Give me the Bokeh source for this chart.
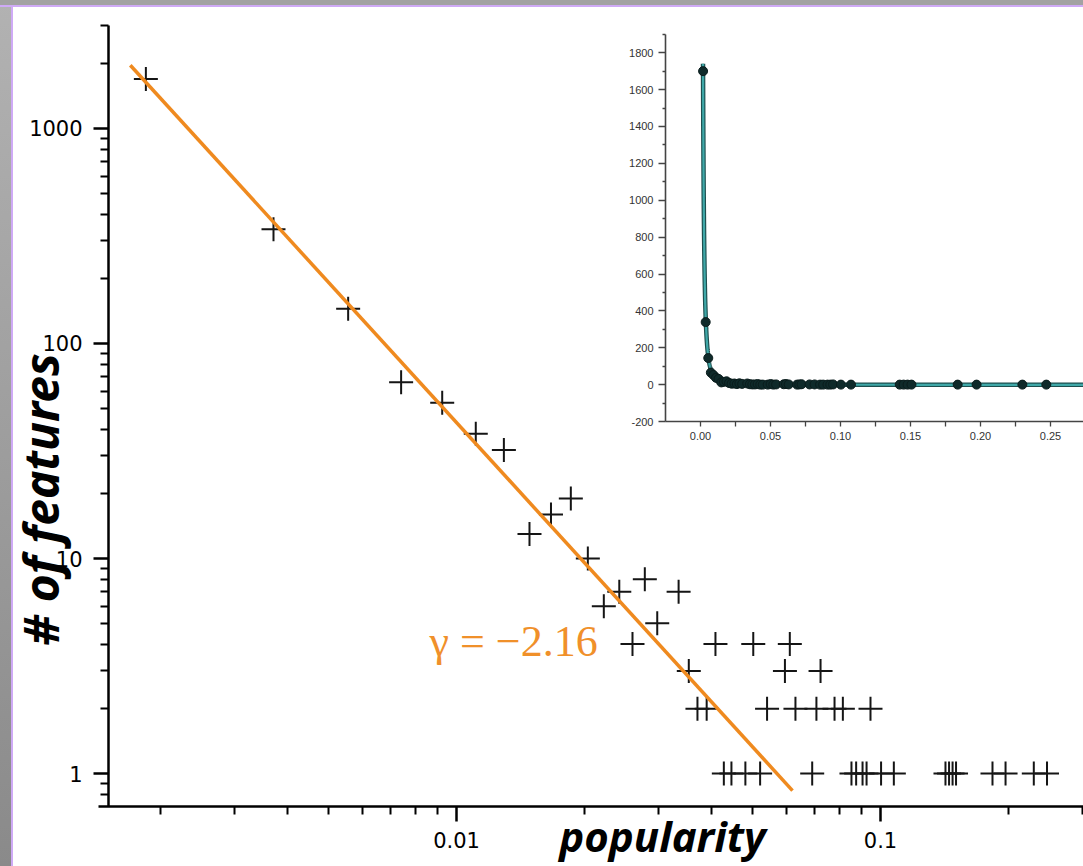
import numpy as np
from bokeh.plotting import figure
from bokeh.models import Range1d, LinearScale, LinearAxis, LogAxis, FixedTicker, Label
from bokeh.embed import file_html
from bokeh.resources import INLINE

# ---------------- data ----------------
popularity = [0.00185, 0.0037, 0.00555, 0.0074, 0.00925, 0.0111, 0.01293, 0.01486,
              0.0167, 0.0186, 0.0204, 0.02225, 0.0242, 0.0260, 0.0278, 0.02974,
              0.0334, 0.0353, 0.0370, 0.0389, 0.0408, 0.0427, 0.0445, 0.0480,
              0.0501, 0.0520, 0.0540, 0.0595, 0.0611, 0.0630, 0.0690, 0.0706,
              0.0722, 0.0779, 0.0815, 0.0854, 0.0876, 0.0907, 0.0927, 0.0947,
              0.1003, 0.1075, 0.1423, 0.1451, 0.1479, 0.1507, 0.1837, 0.1972,
              0.2299, 0.2470]
n_features = [1700, 340, 145, 66, 53, 38, 32, 13,
              16, 19, 10, 6, 7, 4, 8, 5,
              7, 3, 2, 2, 4, 1, 1, 1,
              4, 1, 2, 3, 4, 2, 1, 2,
              3, 2, 2, 1, 1, 1, 1, 2,
              1, 1, 1, 1, 1, 1, 1, 1,
              1, 1]

fit_gamma = -2.16
fit_log_coef = -2.688
fit_x_ends = [0.0017, 0.062]
inset_fit_x_ends = [0.0018, 0.2736]

# main (log-log) axes extent
main_x_axis_start = 0.00143
main_x_view = [0.000840, 0.30114]
main_y_view = [0.36936, 3938.6]
main_y_axis_at_x = 0.0015108
main_x_axis_at_y = 0.7023
main_y_axis_end = 3014

x_major_ticks = [0.01, 0.1]
x_tick_labels = ["0.01", "0.1"]
x_minor_ticks = [0.002, 0.003, 0.004, 0.005, 0.006, 0.007, 0.008, 0.009,
                 0.02, 0.03, 0.04, 0.05, 0.06, 0.07, 0.08, 0.09, 0.2, 0.3]
y_major_ticks = [1, 10, 100, 1000]
y_tick_labels = ["1", "10", "100", "1000"]
y_minor_ticks = [0.8, 0.9, 2, 3, 4, 5, 6, 7, 8, 9, 20, 30, 40, 50, 60, 70, 80, 90,
                 200, 300, 400, 500, 600, 700, 800, 900, 2000, 3000]

# inset (linear) axes extent
inset_x_view = [-0.5, 0.273571]
inset_y_view = [-2610.8, 2082.9]
inset_x_axis_start = -0.025
inset_y_axis_bounds = [-200, 1900]
inset_x_ticks = [0.0, 0.05, 0.10, 0.15, 0.20, 0.25]
inset_x_labels = ["0.00", "0.05", "0.10", "0.15", "0.20", "0.25"]
inset_x_minor = [0.025, 0.075, 0.125, 0.175, 0.225]
inset_y_ticks = [-200, 0, 200, 400, 600, 800, 1000, 1200, 1400, 1600, 1800]
inset_y_labels = ["-200", "0", "200", "400", "600", "800", "1000", "1200", "1400", "1600", "1800"]
inset_y_minor = [-100, 100, 300, 500, 700, 900, 1100, 1300, 1500, 1700, 1900]

ORANGE = "#EF8A1F"

# ---------------- main figure ----------------
p = figure(width=1083, height=866, x_axis_type="log", y_axis_type="log",
           x_axis_location=None, y_axis_location=None,
           x_range=Range1d(*main_x_view), y_range=Range1d(*main_y_view),
           output_backend="svg", toolbar_location=None,
           min_border_left=0, min_border_right=0, min_border_top=0, min_border_bottom=0,
           background_fill_color=None, border_fill_color=None, outline_line_color=None)
p.grid.visible = False

xa = LogAxis(fixed_location=main_x_axis_at_y, bounds=(main_x_axis_start, main_x_view[1]),
             ticker=FixedTicker(ticks=x_major_ticks, minor_ticks=x_minor_ticks),
             major_label_overrides=dict(zip(x_major_ticks, x_tick_labels)))
ya = LogAxis(fixed_location=main_y_axis_at_x, bounds=(main_x_axis_at_y, main_y_axis_end),
             ticker=FixedTicker(ticks=y_major_ticks, minor_ticks=y_minor_ticks),
             major_label_overrides=dict(zip(y_major_ticks, y_tick_labels)))
for ax in (xa, ya):
    ax.axis_line_width = 2.5
    ax.axis_line_color = "black"
    ax.major_tick_line_width = 2.5
    ax.minor_tick_line_width = 2
    ax.major_tick_in = 0
    ax.major_tick_out = 15
    ax.minor_tick_in = 0
    ax.minor_tick_out = 8
    ax.major_label_text_font = "DejaVu Sans"
    ax.major_label_text_font_size = "21px"
    ax.major_label_text_color = "black"
    ax.major_label_standoff = 11
p.add_layout(xa, "below")
p.add_layout(ya, "left")

# main scatter and fit line
p.scatter(popularity, n_features, marker="cross", size=24, line_width=2, line_color="#151515")
fit_y_ends = [10 ** fit_log_coef * x ** fit_gamma for x in fit_x_ends]
p.line(fit_x_ends, fit_y_ends, line_color=ORANGE, line_width=3.5)

p.add_layout(Label(x=0.008637, y=4.111, text="γ = −2.16", text_font="Liberation Serif",
                   text_font_size="44px", text_color="#F0902A", text_baseline="alphabetic",
                   text_align="left"))
p.add_layout(Label(x=0.03061, y=0.5149, text="popularity", text_font="Noto Sans",
                   text_font_size="42px", text_font_style="bold italic", text_color="black",
                   text_align="center", text_baseline="alphabetic"))
p.add_layout(Label(x=0.0010444, y=18.81, text="# of features", text_font="Noto Sans",
                   text_font_size="48px", text_font_style="bold italic", text_color="black",
                   text_align="center", text_baseline="middle", angle=90, angle_units="deg"))

# ---------------- inset (linear) ----------------
p.extra_x_ranges = {"ix": Range1d(*inset_x_view)}
p.extra_y_ranges = {"iy": Range1d(*inset_y_view)}
p.extra_x_scales = {"ix": LinearScale()}
p.extra_y_scales = {"iy": LinearScale()}

ifx = np.geomspace(inset_fit_x_ends[0], inset_fit_x_ends[1], 400)
ify = 10 ** fit_log_coef * ifx ** fit_gamma
p.line(ifx, ify, x_range_name="ix", y_range_name="iy", line_color="#1d4f4f", line_width=4.5)
p.line(ifx, ify, x_range_name="ix", y_range_name="iy", line_color="#3FA8A8", line_width=2.2)
p.scatter(popularity, n_features, x_range_name="ix", y_range_name="iy", marker="circle",
          size=9, fill_color="#0f2a2a", line_color="#0a1c1c", line_width=1)

ix_axis = LinearAxis(x_range_name="ix", y_range_name="iy", fixed_location=inset_y_axis_bounds[0],
                     bounds=(inset_x_axis_start, inset_x_view[1]),
                     ticker=FixedTicker(ticks=inset_x_ticks, minor_ticks=inset_x_minor),
                     major_label_overrides=dict(zip(inset_x_ticks, inset_x_labels)))
iy_axis = LinearAxis(x_range_name="ix", y_range_name="iy", fixed_location=inset_x_axis_start,
                     bounds=tuple(inset_y_axis_bounds),
                     ticker=FixedTicker(ticks=inset_y_ticks, minor_ticks=inset_y_minor),
                     major_label_overrides=dict(zip(inset_y_ticks, inset_y_labels)))
for ax in (ix_axis, iy_axis):
    ax.axis_line_color = "#444444"
    ax.axis_line_width = 1.6
    ax.major_tick_line_color = "#444444"
    ax.minor_tick_line_color = "#444444"
    ax.major_tick_line_width = 1.3
    ax.minor_tick_line_width = 1.3
    ax.major_tick_in = 0
    ax.minor_tick_in = 0
    ax.major_label_text_font = "Liberation Sans"
    ax.major_label_text_font_size = "11px"
    ax.major_label_text_color = "#333333"
ix_axis.major_tick_out = 5
ix_axis.minor_tick_out = 5
ix_axis.major_label_standoff = 5
iy_axis.major_tick_out = 7
iy_axis.minor_tick_out = 3
iy_axis.major_label_standoff = 5
p.add_layout(ix_axis, "below")
p.add_layout(iy_axis, "left")

template = """
{% block postamble %}
<style>
html {
  background-color: #ffffff;
  background-image: linear-gradient(#a2a2a2, #a2a2a2), linear-gradient(#cfaaf6, #cfaaf6),
                    linear-gradient(to bottom, #b2b2b2, #8a8a8a), linear-gradient(#cfaaf6, #cfaaf6);
  background-size: 100% 5px, 100% 2px, 11px 100%, 2px 100%;
  background-position: 0 0, 0 5px, 0 0, 11px 0;
  background-repeat: no-repeat;
}
body { background: transparent; }
</style>
{% endblock %}
"""

open("out.html", "w").write(file_html(p, INLINE, title="popularity", template=template))
